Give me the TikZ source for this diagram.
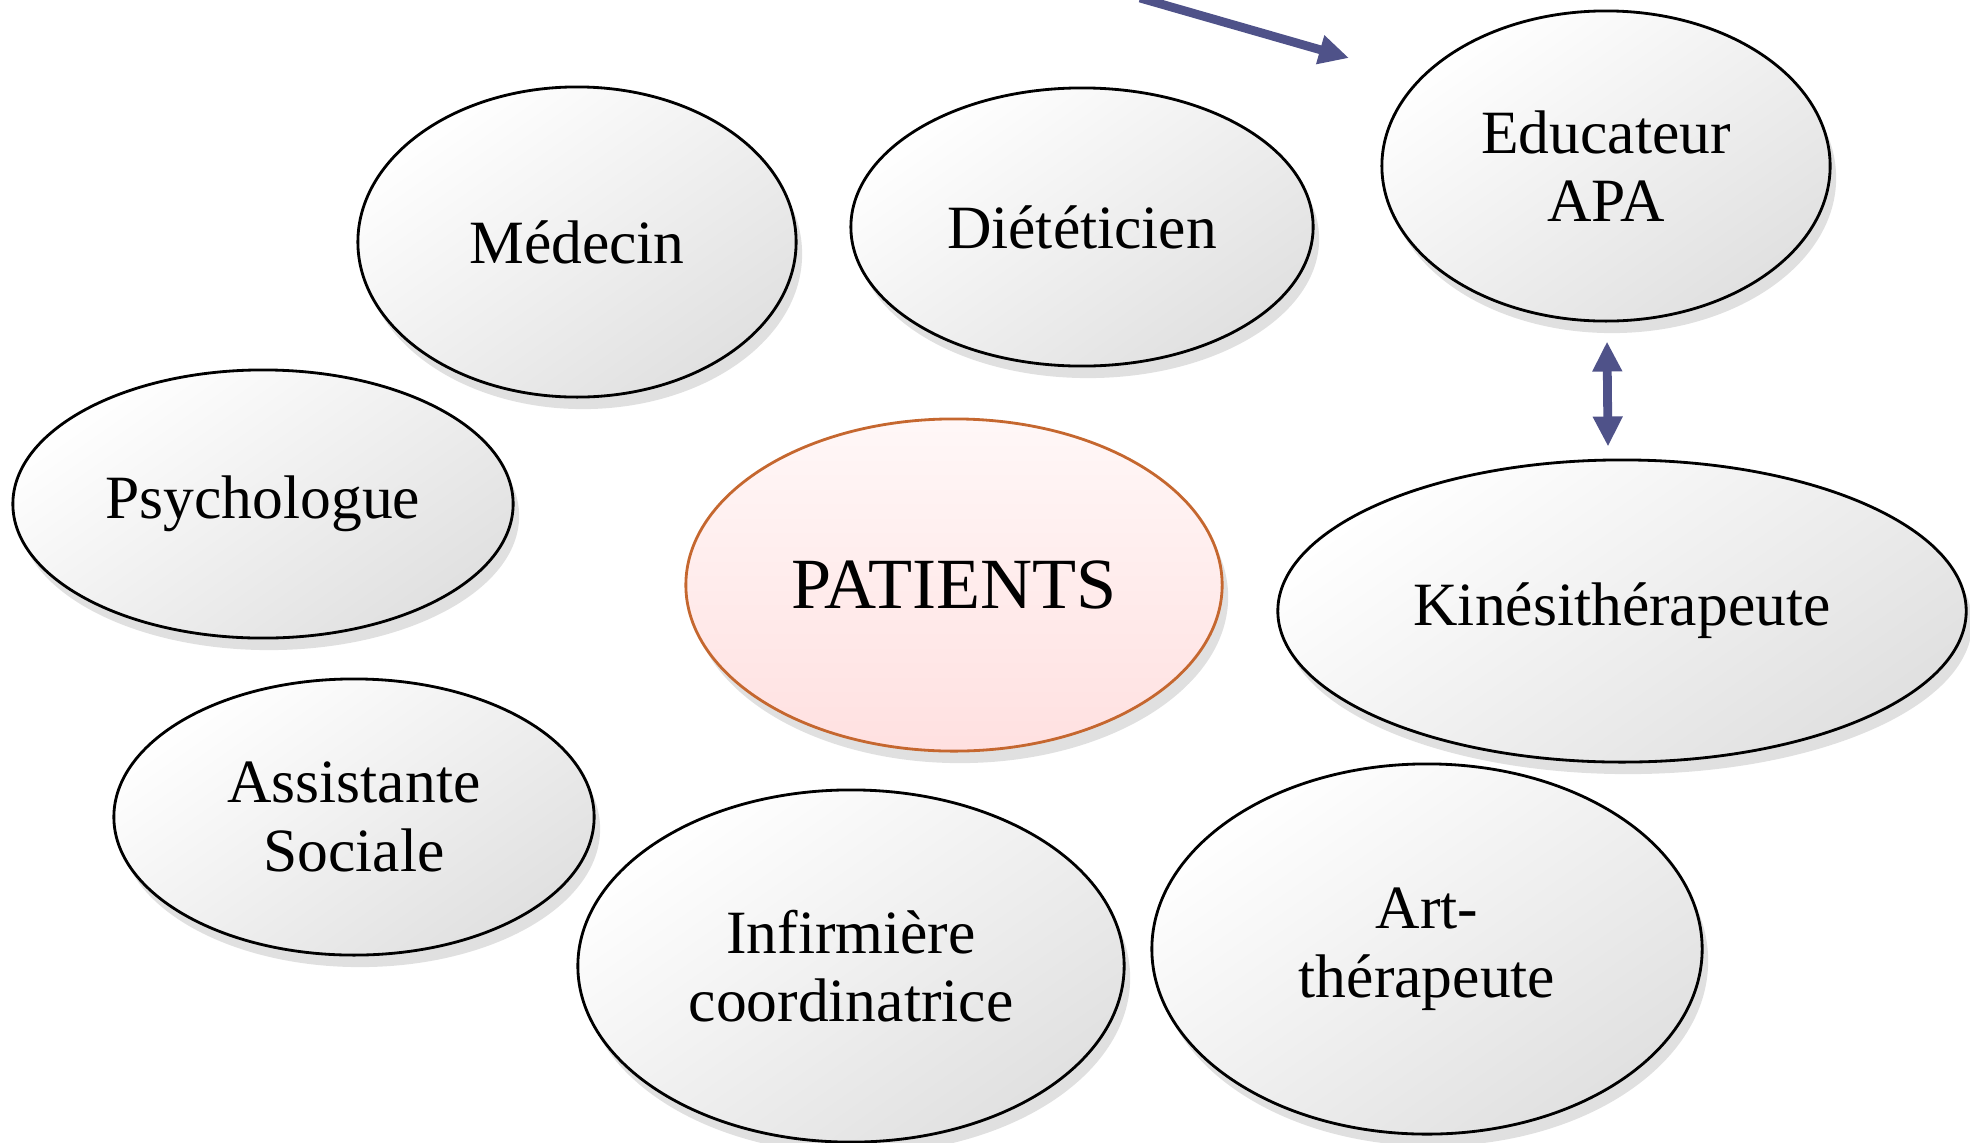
\documentclass[tikz,border=0pt]{standalone}
\usepackage{fontspec}
\setmainfont{Liberation Serif}
\usetikzlibrary{arrows.meta,shapes.geometric,shadows,calc}

\definecolor{arrowblue}{HTML}{4F5289}
\definecolor{patedge}{HTML}{C5672F}

\begin{document}
\begin{tikzpicture}[
        x=0.01cm, y=-0.01cm,
        >={Triangle[length=3mm, width=2.8mm]}, % arrow head style
        font=\fontsize{17.5}{19.5}\selectfont]

        \tikzstyle{every node}=[align=center, text=black]
        \tikzstyle{metier}=[
            ellipse,
            draw = black,
            line width=0.8pt,
            inner sep=0pt,
            top color=white,
            bottom color=black!12,
            shading angle=35,
            drop shadow={shadow xshift=0.6mm, shadow yshift=-1.2mm, opacity=0.2, fill=black!60}
        ]
        \tikzset{lien/.style={<->, draw=arrowblue, fill=arrowblue, line width=2.5pt}}

        \useasboundingbox (0,0) rectangle (1970,1142);

        \node[metier, minimum width=4.38cm, minimum height=3.10cm] (1) at (577,242) {Médecin};
        \node[metier, minimum width=4.62cm, minimum height=2.78cm] (2) at (1082,227) {Diététicien};
        \node[metier, minimum width=4.48cm, minimum height=3.10cm] (3) at (1606,166) {Educateur\\APA};
        \node[metier, minimum width=5.00cm, minimum height=2.68cm] (4) at (263,504) {Psychologue};
        \node[metier, minimum width=6.88cm, minimum height=3.02cm] (5) at (1622,611) {Kinésithérapeute};
        \node[metier, minimum width=4.80cm, minimum height=2.76cm] (6) at (354,817) {Assistante\\Sociale};
        \node[metier, minimum width=5.46cm, minimum height=3.52cm] (7) at (851,966) {Infirmière\\coordinatrice};
        \node[metier, minimum width=5.50cm, minimum height=3.70cm] (8) at (1427,949) {Art-\\thérapeute};
        \node[metier, draw=patedge, top color=red!3, bottom color=red!12,
            minimum width=5.36cm, minimum height=3.32cm, font=\fontsize{20.5}{24}\selectfont] (0) at (954,585) {PATIENTS};

        \coordinate (a) at (1140,-2);
        \coordinate (b) at (1349,58);
        \draw[lien, ->] (a) -- (b);
        \draw[lien] ($(3.south)+(1,19)$) -- ($(3.south |- 5.north)+(2,-12)$);
    \end{tikzpicture}
\end{document}
